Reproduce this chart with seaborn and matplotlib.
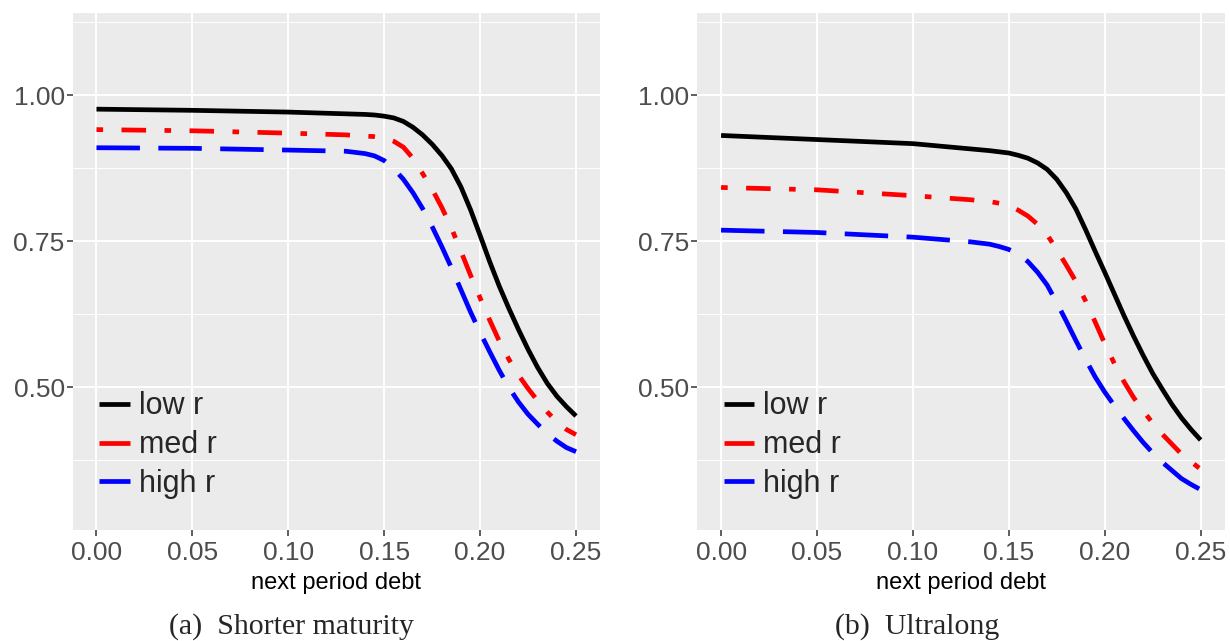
import matplotlib
matplotlib.use("Agg")
import matplotlib.pyplot as plt
import numpy as np
import pandas as pd
import seaborn as sns
from matplotlib.lines import Line2D
from matplotlib.ticker import FixedLocator

# next-period debt grid
debt = [0.00, 0.05, 0.10, 0.13, 0.14, 0.145, 0.15, 0.155, 0.16, 0.165, 0.17,
        0.175, 0.18, 0.185, 0.19, 0.195, 0.20, 0.205, 0.21, 0.215, 0.22,
        0.225, 0.23, 0.235, 0.24, 0.245, 0.25]

# (a) shorter maturity
short_low = [0.976, 0.974, 0.971, 0.968, 0.967, 0.966, 0.964, 0.961, 0.955, 0.945, 0.932,
             0.916, 0.897, 0.874, 0.843, 0.804, 0.760, 0.715, 0.673, 0.635, 0.599,
             0.565, 0.534, 0.507, 0.485, 0.467, 0.451]
short_med = [0.941, 0.939, 0.935, 0.932, 0.930, 0.929, 0.927, 0.921, 0.911, 0.892, 0.866,
             0.839, 0.808, 0.773, 0.733, 0.692, 0.653, 0.615, 0.579, 0.548, 0.521,
             0.498, 0.477, 0.458, 0.441, 0.428, 0.419]
short_high = [0.910, 0.909, 0.906, 0.904, 0.900, 0.896, 0.888, 0.874, 0.856, 0.833, 0.806,
              0.775, 0.741, 0.705, 0.667, 0.629, 0.594, 0.561, 0.529, 0.500, 0.475,
              0.454, 0.437, 0.421, 0.408, 0.397, 0.390]

# (b) ultralong
ultra_low = [0.931, 0.924, 0.917, 0.908, 0.905, 0.903, 0.901, 0.897, 0.892, 0.884, 0.873,
             0.856, 0.833, 0.805, 0.770, 0.733, 0.697, 0.660, 0.623, 0.588, 0.555,
             0.524, 0.497, 0.471, 0.448, 0.428, 0.410]
ultra_med = [0.842, 0.838, 0.828, 0.821, 0.818, 0.815, 0.811, 0.803, 0.793, 0.779, 0.761,
             0.736, 0.709, 0.681, 0.648, 0.612, 0.575, 0.541, 0.510, 0.483, 0.460,
             0.439, 0.420, 0.403, 0.386, 0.373, 0.360]
ultra_high = [0.769, 0.765, 0.757, 0.749, 0.745, 0.741, 0.736, 0.728, 0.715, 0.697, 0.675,
              0.645, 0.613, 0.580, 0.548, 0.518, 0.492, 0.469, 0.447, 0.426, 0.406,
              0.388, 0.372, 0.358, 0.344, 0.334, 0.325]

series_labels = ["low r", "med r", "high r"]
panel_captions = ["(a)  Shorter maturity", "(b)  Ultralong"]
x_label = "next period debt"
x_ticks = [0.00, 0.05, 0.10, 0.15, 0.20, 0.25]
x_tick_labels = ["0.00", "0.05", "0.10", "0.15", "0.20", "0.25"]
y_ticks = [0.50, 0.75, 1.00]
y_tick_labels = ["0.50", "0.75", "1.00"]
y_minor = [0.375, 0.625, 0.875, 1.125]

colors = ["#000000", "#FF0000", "#0000FF"]
styles = ["-", (0, (1.4, 3.9, 5.2, 3.9)), (0, (9.2, 3.9))]

sns.set_theme(style="darkgrid", rc={
    "axes.facecolor": "#EBEBEB",
    "figure.facecolor": "white",
    "grid.color": "white",
})
plt.rcParams["font.family"] = ["Liberation Sans", "DejaVu Sans"]

W, H = 1230, 641
fig = plt.figure(figsize=(W / 100, H / 100), dpi=100)
ax_bottom, ax_top = 530, 13.3
ax_w = 527.3
ax_a = fig.add_axes([72.7 / W, (H - ax_bottom) / H, ax_w / W, (ax_bottom - ax_top) / H])
ax_b = fig.add_axes([697.3 / W, (H - ax_bottom) / H, ax_w / W, (ax_bottom - ax_top) / H])

panels = [
    (ax_a, [short_low, short_med, short_high]),
    (ax_b, [ultra_low, ultra_med, ultra_high]),
]

for ax, series in panels:
    for vals, lab, col, ls in zip(series, series_labels, colors, styles):
        df = pd.DataFrame({"debt": debt, "value": vals})
        sns.lineplot(data=df, x="debt", y="value", color=col, linewidth=3.4,
                     linestyle=ls, ax=ax, legend=False)
    for ln in ax.lines:
        ln.set_solid_capstyle("butt")
        ln.set_dash_capstyle("butt")
        ln.set_solid_joinstyle("round")

    ax.set_xlim(-0.0124, 0.2625)
    ax.set_ylim(0.256, 1.14)
    ax.set_xticks(x_ticks)
    ax.set_xticklabels(x_tick_labels)
    ax.set_yticks(y_ticks)
    ax.set_yticklabels(y_tick_labels)
    ax.yaxis.set_minor_locator(FixedLocator(y_minor))

    ax.grid(which="major", color="white", linewidth=1.4)
    ax.grid(which="minor", axis="y", color="white", linewidth=0.7)
    ax.set_axisbelow(True)
    for sp in ax.spines.values():
        sp.set_visible(False)

    ax.tick_params(which="major", bottom=True, left=True, length=4.3, width=1.1,
                   color="#333333", labelcolor="#4D4D4D", labelsize=19, pad=1.5)
    ax.tick_params(axis="x", which="major", pad=3.5)
    ax.tick_params(which="minor", length=0)

    ax.set_xlabel(x_label, fontsize=17, color="black", labelpad=5)
    ax.set_ylabel("")

    handles = [Line2D([], [], color=c, linewidth=3.4, linestyle="-",
                      solid_capstyle="butt") for c in colors]
    ax.legend(handles, series_labels, loc="center left",
              bbox_to_anchor=(26.3 / ax_w, 0.164),
              frameon=False, fontsize=22, handlelength=1.0, handletextpad=0.3,
              labelspacing=0.29, borderpad=0, borderaxespad=0)

fig.text(291.7 / W, (H - 634) / H, panel_captions[0], ha="center", va="baseline",
         family="Liberation Serif", fontsize=21.5)
fig.text(917 / W, (H - 634) / H, panel_captions[1], ha="center", va="baseline",
         family="Liberation Serif", fontsize=21.5)

fig.savefig("out.png", dpi=100)
